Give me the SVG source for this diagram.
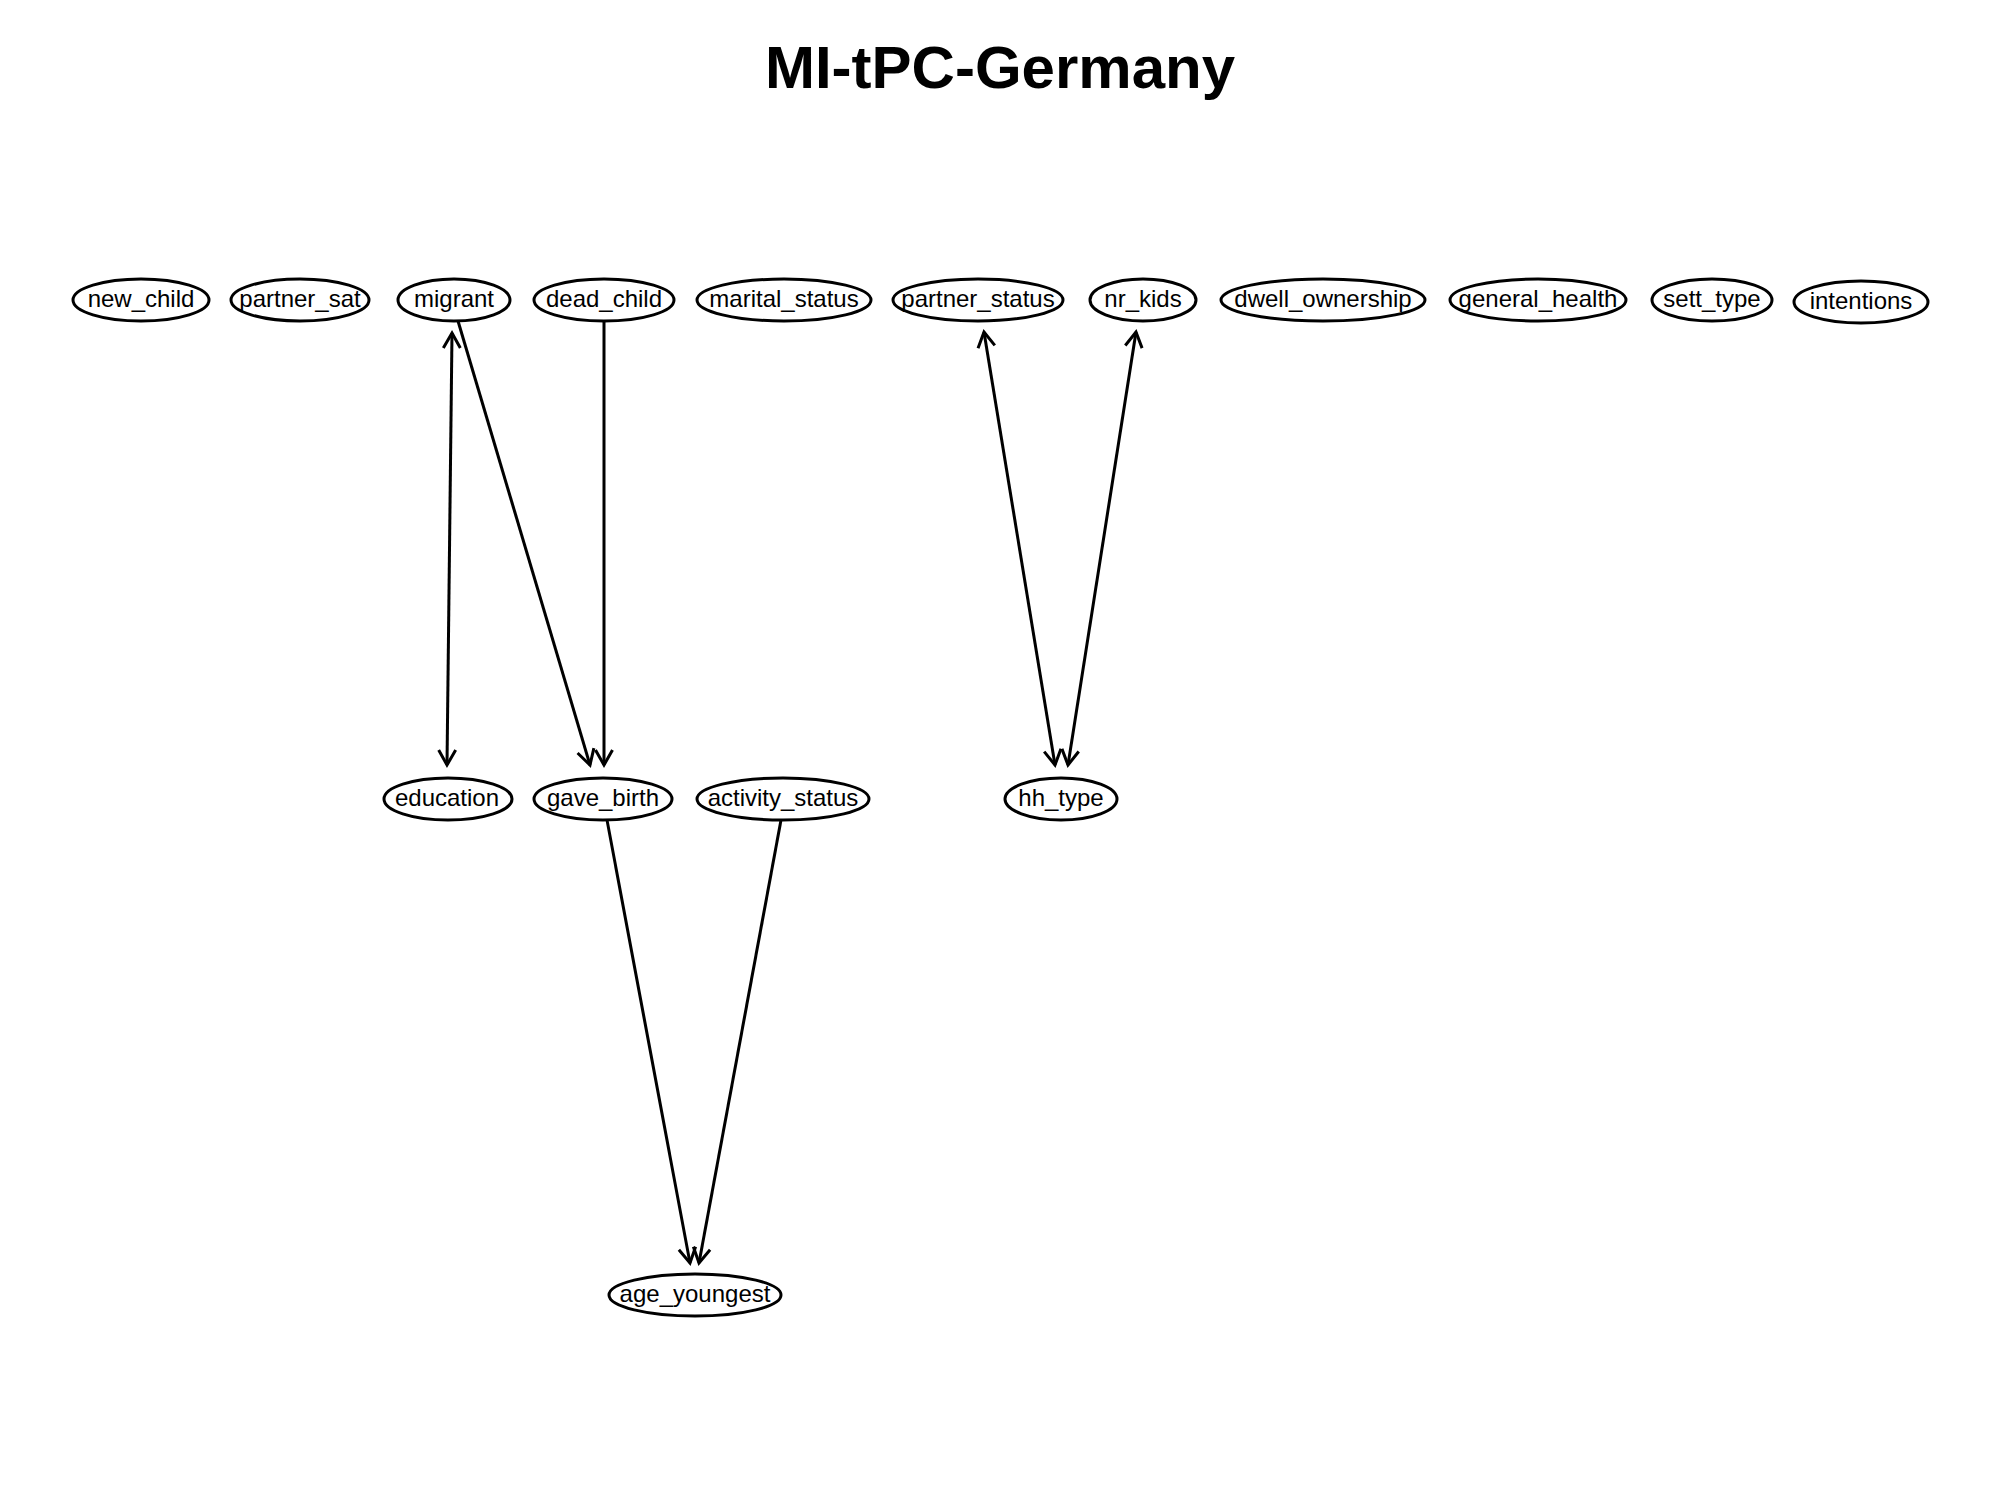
<svg xmlns="http://www.w3.org/2000/svg" width="2000" height="1500" viewBox="0 0 2000 1500">
  <style>
    .node ellipse { fill: #ffffff; stroke: #000000; stroke-width: 3; }
    .node text { font-family: "Liberation Sans", Arial, sans-serif; font-size: 24px; text-anchor: middle; fill: #000000; }
    .edges line { stroke: #000000; stroke-width: 3; fill: none; }
    .title { font-family: "Liberation Sans", Arial, sans-serif; font-size: 60px; font-weight: bold; text-anchor: middle; fill: #000000; }
  </style>
  <defs>
    <marker id="arrow" markerUnits="userSpaceOnUse" markerWidth="40" markerHeight="40" viewBox="-20 -20 40 40" refX="0" refY="0" orient="auto-start-reverse">
      <path d="M-15,-8.5 L0,0 L-15,8.5" fill="none" stroke="#000000" stroke-width="3" stroke-linejoin="miter"/>
    </marker>
  </defs>
  <rect x="0" y="0" width="2000" height="1500" fill="#ffffff"/>

  <text class="title" x="1000" y="88">MI-tPC-Germany</text>

  <!-- connectors -->
  <g id="edges" class="edges">
    <line id="e-migrant-education" x1="452" y1="333" x2="447" y2="765" marker-start="url(#arrow)" marker-end="url(#arrow)"/>
    <line id="e-migrant-gave_birth" x1="458" y1="321" x2="590" y2="765" marker-end="url(#arrow)"/>
    <line id="e-dead_child-gave_birth" x1="604" y1="321" x2="604" y2="765" marker-end="url(#arrow)"/>
    <line id="e-partner_status-hh_type" x1="984" y1="332" x2="1055" y2="765" marker-start="url(#arrow)" marker-end="url(#arrow)"/>
    <line id="e-nr_kids-hh_type" x1="1136" y1="332" x2="1068" y2="765" marker-start="url(#arrow)" marker-end="url(#arrow)"/>
    <line id="e-gave_birth-age_youngest" x1="607" y1="820" x2="690" y2="1263" marker-end="url(#arrow)"/>
    <line id="e-activity_status-age_youngest" x1="781" y1="820" x2="699" y2="1263" marker-end="url(#arrow)"/>
  </g>

  <!-- top row -->
  <g id="new_child" class="node"><ellipse cx="141" cy="300" rx="68" ry="21"/><text x="141" y="307">new_child</text></g>
  <g id="partner_sat" class="node"><ellipse cx="300" cy="300" rx="69" ry="21"/><text x="300" y="307">partner_sat</text></g>
  <g id="migrant" class="node"><ellipse cx="454" cy="300" rx="56" ry="21"/><text x="454" y="307">migrant</text></g>
  <g id="dead_child" class="node"><ellipse cx="604" cy="300" rx="70" ry="21"/><text x="604" y="307">dead_child</text></g>
  <g id="marital_status" class="node"><ellipse cx="784" cy="300" rx="87" ry="21"/><text x="784" y="307">marital_status</text></g>
  <g id="partner_status" class="node"><ellipse cx="978" cy="300" rx="85" ry="21"/><text x="978" y="307">partner_status</text></g>
  <g id="nr_kids" class="node"><ellipse cx="1143" cy="300" rx="53" ry="21"/><text x="1143" y="307">nr_kids</text></g>
  <g id="dwell_ownership" class="node"><ellipse cx="1323" cy="300" rx="102" ry="21"/><text x="1323" y="307">dwell_ownership</text></g>
  <g id="general_health" class="node"><ellipse cx="1538" cy="300" rx="88" ry="21"/><text x="1538" y="307">general_health</text></g>
  <g id="sett_type" class="node"><ellipse cx="1712" cy="300" rx="60" ry="21"/><text x="1712" y="307">sett_type</text></g>
  <g id="intentions" class="node"><ellipse cx="1861" cy="302" rx="67" ry="21"/><text x="1861" y="309">intentions</text></g>

  <!-- middle row -->
  <g id="education" class="node"><ellipse cx="448" cy="799" rx="64" ry="21"/><text x="447" y="806">education</text></g>
  <g id="gave_birth" class="node"><ellipse cx="603" cy="799" rx="69" ry="21"/><text x="603" y="806">gave_birth</text></g>
  <g id="activity_status" class="node"><ellipse cx="783" cy="799" rx="86" ry="21"/><text x="783" y="806">activity_status</text></g>
  <g id="hh_type" class="node"><ellipse cx="1061" cy="799" rx="56" ry="21"/><text x="1061" y="806">hh_type</text></g>

  <!-- bottom row -->
  <g id="age_youngest" class="node"><ellipse cx="695" cy="1295" rx="86" ry="21"/><text x="695" y="1302">age_youngest</text></g>
</svg>
